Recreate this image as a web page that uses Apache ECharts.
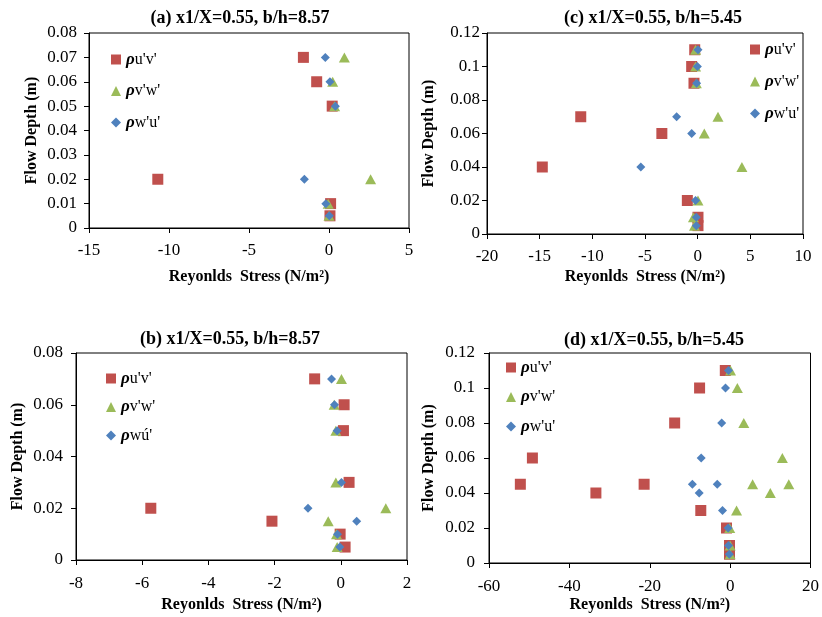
<!DOCTYPE html>
<html>
<head>
<meta charset="utf-8">
<script src="https://cdn.jsdelivr.net/npm/echarts@6/dist/echarts.min.js"></script>
<style>html,body{margin:0;padding:0;background:#fff}#c{width:822px;height:617px}</style>
</head>
<body>
<div id="c"></div>
<script>
// ---- data ----
const titles = ["(a) x1/X=0.55, b/h=8.57", "(c) x1/X=0.55, b/h=5.45", "(b) x1/X=0.55, b/h=8.57", "(d) x1/X=0.55, b/h=5.45"];
const namesStd = ["ρu'v'", "ρv'w'", "ρw'u'"];
const namesB = ["ρu'v'", "ρv'w'", "ρwú'"];
const xTitle = "Reyonlds  Stress (N/m²)";
const yTitle = "Flow Depth (m)";

const depthA = [0.07, 0.06, 0.05, 0.02, 0.01, 0.005];
const uvA = [-1.6, -0.77, 0.2, -10.7, 0.1, 0.06];
const vwA = [0.96, 0.23, 0.35, 2.6, -0.05, 0.0];
const wuA = [-0.23, 0.06, 0.4, -1.54, -0.2, 0.02];

const depthC = [0.11, 0.10, 0.09, 0.07, 0.06, 0.04, 0.02, 0.01, 0.005];
const uvC = [-0.28, -0.57, -0.35, -11.1, -3.4, -14.75, -0.98, 0.03, 0.03];
const vwC = [-0.2, -0.2, -0.13, 1.93, 0.63, 4.2, 0.03, -0.4, -0.3];
const wuC = [0.03, -0.03, -0.1, -2.0, -0.57, -5.4, -0.2, -0.13, -0.13];

const depthB = [0.07, 0.06, 0.05, 0.03, 0.02, 0.015, 0.01, 0.005];
const uvB = [-0.79, 0.1, 0.08, 0.25, -5.74, -2.08, -0.02, 0.13];
const vwB = [0.02, -0.2, -0.15, -0.15, 1.36, -0.38, -0.13, -0.11];
const wuB = [-0.28, -0.19, -0.11, 0.02, -0.99, 0.48, -0.1, -0.03];

const depthD = [0.11, 0.10, 0.08, 0.06, 0.045, 0.04, 0.045, 0.03, 0.02, 0.01, 0.005];
const uvD = [-1.2, -7.6, -13.8, -49.2, -52.2, -33.4, -21.4, -7.3, -0.9, -0.15, -0.15];
const vwD = [0.1, 1.8, 3.4, 13.0, 5.6, 10.0, 14.6, 1.6, -0.1, 0.0, 0.0];
const wuD = [-0.4, -1.15, -2.1, -7.2, -9.4, -7.7, -3.2, -1.9, -0.5, -0.4, -0.2];

const xRanges = [[-15, 5, 5], [-20, 10, 5], [-8, 2, 2], [-60, 20, 20]];
const yRanges = [[0, 0.08, 0.01], [0, 0.12, 0.02], [0, 0.08, 0.02], [0, 0.12, 0.02]];

// ---- layout / style ----
const FONT = "'Liberation Serif','Times New Roman',serif";
const colors = ['#C0504D', '#9BBB59', '#4F81BD'];
const symbols = ['rect', 'triangle', 'diamond'];
const symSizes = [[11, 11], [11, 10], [9, 9]];

const grids = [
  {left: 89, top: 33, width: 320, height: 195},
  {left: 487, top: 33, width: 316, height: 201},
  {left: 76, top: 353, width: 331, height: 207},
  {left: 489, top: 353, width: 326, height: 210}
];
const titlePos = [[240, 18], [653, 18], [230, 339], [654, 340]];
const xNameGap = [41, 35, 37, 34];
const yNameGap = [49, 50, 50, 52];
const xLabelMargin = [14, 14, 15, 15];
const yLabelMargin = [12, 7, 13, 14];
const legendPos = [
  {left: 111, top: 51, itemGap: 14.5},
  {left: 750, top: 41, itemGap: 15},
  {left: 106, top: 370, itemGap: 11.5},
  {left: 506, top: 359, itemGap: 12.5}
];

const panels = [
  {depth: depthA, vals: [uvA, vwA, wuA], names: namesStd},
  {depth: depthC, vals: [uvC, vwC, wuC], names: namesStd},
  {depth: depthB, vals: [uvB, vwB, wuB], names: namesB},
  {depth: depthD, vals: [uvD, vwD, wuD], names: namesStd}
];

const axisCommon = {
  axisLine: {show: true, onZero: false, lineStyle: {color: '#000', width: 1}},
  axisTick: {show: true, inside: false, length: 5, lineStyle: {color: '#000'}},
  splitLine: {show: false},
  axisLabel: {color: '#000', fontFamily: FONT, fontSize: 17},
  nameTextStyle: {color: '#000', fontFamily: FONT, fontSize: 16, fontWeight: 'bold'}
};

const option = {
  animation: false,
  backgroundColor: '#fff',
  grid: grids.map(g => Object.assign({show: true, borderColor: '#000', borderWidth: 1, backgroundColor: 'transparent'}, g)),
  xAxis: xRanges.map((r, i) => Object.assign({}, axisCommon, {
    type: 'value', gridIndex: i, min: r[0], max: r[1], interval: r[2],
    name: xTitle, nameLocation: 'middle', nameGap: xNameGap[i],
    axisLabel: Object.assign({}, axisCommon.axisLabel, {margin: xLabelMargin[i]})
  })),
  yAxis: yRanges.map((r, i) => Object.assign({}, axisCommon, {
    type: 'value', gridIndex: i, min: r[0], max: r[1], interval: r[2],
    name: yTitle, nameLocation: 'middle', nameGap: yNameGap[i], nameRotate: 90,
    axisLabel: Object.assign({}, axisCommon.axisLabel, {margin: yLabelMargin[i], formatter: v => String(+v.toFixed(3))})
  })),
  legend: panels.map((p, i) => ({
    orient: 'vertical', left: legendPos[i].left, top: legendPos[i].top, itemGap: legendPos[i].itemGap,
    itemWidth: 10, itemHeight: 10, padding: 0,
    data: p.names,
    selectedMode: false,
    formatter: n => '{r|ρ}{n|' + n.slice(1) + '}',
    textStyle: {
      rich: {
        r: {fontFamily: FONT, fontSize: 17, fontWeight: 'bold', fontStyle: 'italic', color: '#000'},
        n: {fontFamily: FONT, fontSize: 16, color: '#000'}
      }
    }
  })),
  graphic: titles.map((t, i) => ({
    type: 'text', x: titlePos[i][0], y: titlePos[i][1],
    style: {text: t, fill: '#000', font: 'bold 18px ' + FONT, textAlign: 'center', textVerticalAlign: 'middle'}
  })),
  series: []
};

panels.forEach((p, i) => {
  p.vals.forEach((arr, k) => {
    option.series.push({
      type: 'scatter', name: p.names[k], xAxisIndex: i, yAxisIndex: i,
      symbol: symbols[k], symbolSize: symSizes[k],
      itemStyle: {color: colors[k], opacity: 1},
      data: arr.map((v, j) => [v, p.depth[j]])
    });
  });
});

const chart = echarts.init(document.getElementById('c'), null, {renderer: 'canvas'});
chart.setOption(option);
</script>
</body>
</html>
